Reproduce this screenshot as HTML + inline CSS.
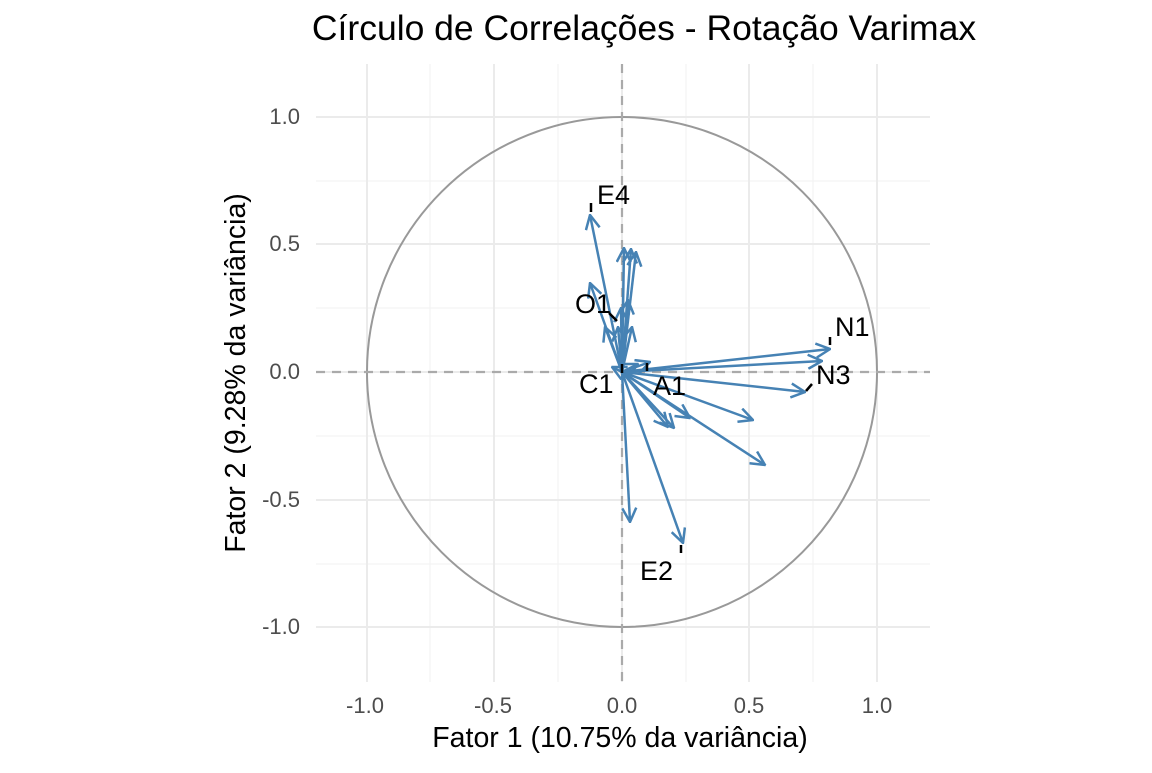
<!DOCTYPE html>
<html><head><meta charset="utf-8"><style>
body{margin:0;background:#fff;width:1152px;height:768px;overflow:hidden}
text{font-family:"Liberation Sans",sans-serif}
</style></head><body>
<svg width="1152" height="768" xmlns="http://www.w3.org/2000/svg">
<defs>
<marker id="a" viewBox="0 0 16 16" refX="15" refY="8" markerWidth="16" markerHeight="16" markerUnits="userSpaceOnUse" orient="auto">
<path d="M1,1 L15,8 L1,15" fill="none" stroke="#4682B4" stroke-width="2.5"/>
</marker>
</defs>
<g stroke="#f2f2f2" stroke-width="1">
<line x1="430" y1="64" x2="430" y2="682"/><line x1="558" y1="64" x2="558" y2="682"/><line x1="686" y1="64" x2="686" y2="682"/><line x1="813" y1="64" x2="813" y2="682"/>
<line x1="316" y1="181" x2="930" y2="181"/><line x1="316" y1="308" x2="930" y2="308"/><line x1="316" y1="436" x2="930" y2="436"/><line x1="316" y1="564" x2="930" y2="564"/>
</g>
<g stroke="#ebebeb" stroke-width="2">
<line x1="367" y1="64" x2="367" y2="682"/><line x1="494" y1="64" x2="494" y2="682"/><line x1="622" y1="64" x2="622" y2="682"/><line x1="749" y1="64" x2="749" y2="682"/><line x1="877" y1="64" x2="877" y2="682"/>
<line x1="316" y1="117" x2="930" y2="117"/><line x1="316" y1="244" x2="930" y2="244"/><line x1="316" y1="372" x2="930" y2="372"/><line x1="316" y1="500" x2="930" y2="500"/><line x1="316" y1="627" x2="930" y2="627"/>
</g>
<circle cx="622" cy="372" r="255" fill="none" stroke="#999" stroke-width="2"/>
<g stroke="#aaa" stroke-width="2.2" stroke-dasharray="9,7">
<line x1="622" y1="64" x2="622" y2="682"/><line x1="316" y1="372" x2="930" y2="372"/>
</g>
<g stroke="#4682B4" stroke-width="2.5" marker-end="url(#a)">
<line x1="622" y1="372" x2="590" y2="215"/>
<line x1="622" y1="372" x2="590" y2="283"/>
<line x1="622" y1="372" x2="624" y2="248"/>
<line x1="622" y1="372" x2="631" y2="249"/>
<line x1="622" y1="372" x2="636" y2="252"/>
<line x1="622" y1="372" x2="628" y2="300"/>
<line x1="622" y1="372" x2="621" y2="308"/>
<line x1="622" y1="372" x2="605" y2="327"/>
<line x1="622" y1="372" x2="618" y2="327"/>
<line x1="622" y1="372" x2="632" y2="327"/>
<line x1="622" y1="372" x2="830" y2="349"/>
<line x1="622" y1="372" x2="822" y2="361"/>
<line x1="622" y1="372" x2="805" y2="392"/>
<line x1="622" y1="372" x2="753" y2="420"/>
<line x1="622" y1="372" x2="765" y2="465"/>
<line x1="622" y1="372" x2="690" y2="418"/>
<line x1="622" y1="372" x2="674" y2="428"/>
<line x1="622" y1="372" x2="668" y2="427"/>
<line x1="622" y1="372" x2="650" y2="362"/>
<line x1="622" y1="372" x2="638" y2="364"/>
<line x1="622" y1="372" x2="612" y2="367"/>
<line x1="622" y1="372" x2="630" y2="522"/>
<line x1="622" y1="372" x2="683" y2="543"/>
</g>
<g stroke="#000" stroke-width="2.5">
<line x1="591" y1="212" x2="591" y2="203"/>
<line x1="609" y1="313" x2="617" y2="321"/>
<line x1="622" y1="364" x2="622" y2="373"/>
<line x1="647" y1="363" x2="647" y2="371"/>
<line x1="830" y1="345" x2="830" y2="337"/>
<line x1="806" y1="391" x2="812" y2="384"/>
<line x1="681" y1="545" x2="681" y2="553"/>
</g>
<g font-size="27" fill="#000">
<text x="597" y="204">E4</text>
<text x="575" y="313">O1</text>
<text x="579" y="393">C1</text>
<text x="653" y="395">A1</text>
<text x="835" y="336">N1</text>
<text x="816" y="384">N3</text>
<text x="640" y="580">E2</text>
</g>
<g font-size="22" fill="#4d4d4d" text-anchor="end">
<text x="300" y="124">1.0</text><text x="300" y="251">0.5</text><text x="300" y="379">0.0</text><text x="300" y="507">-0.5</text><text x="300" y="634">-1.0</text>
</g>
<g font-size="22" fill="#4d4d4d" text-anchor="middle">
<text x="365" y="713">-1.0</text><text x="493" y="713">-0.5</text><text x="622" y="713">0.0</text><text x="749" y="713">0.5</text><text x="877" y="713">1.0</text>
</g>
<text x="620" y="747" font-size="28.5" text-anchor="middle">Fator 1 (10.75% da variância)</text>
<text transform="translate(245,373) rotate(-90)" font-size="28.5" text-anchor="middle">Fator 2 (9.28% da variância)</text>
<text x="644" y="40" font-size="35.5" text-anchor="middle">Círculo de Correlações - Rotação Varimax</text>
</svg>
</body></html>
